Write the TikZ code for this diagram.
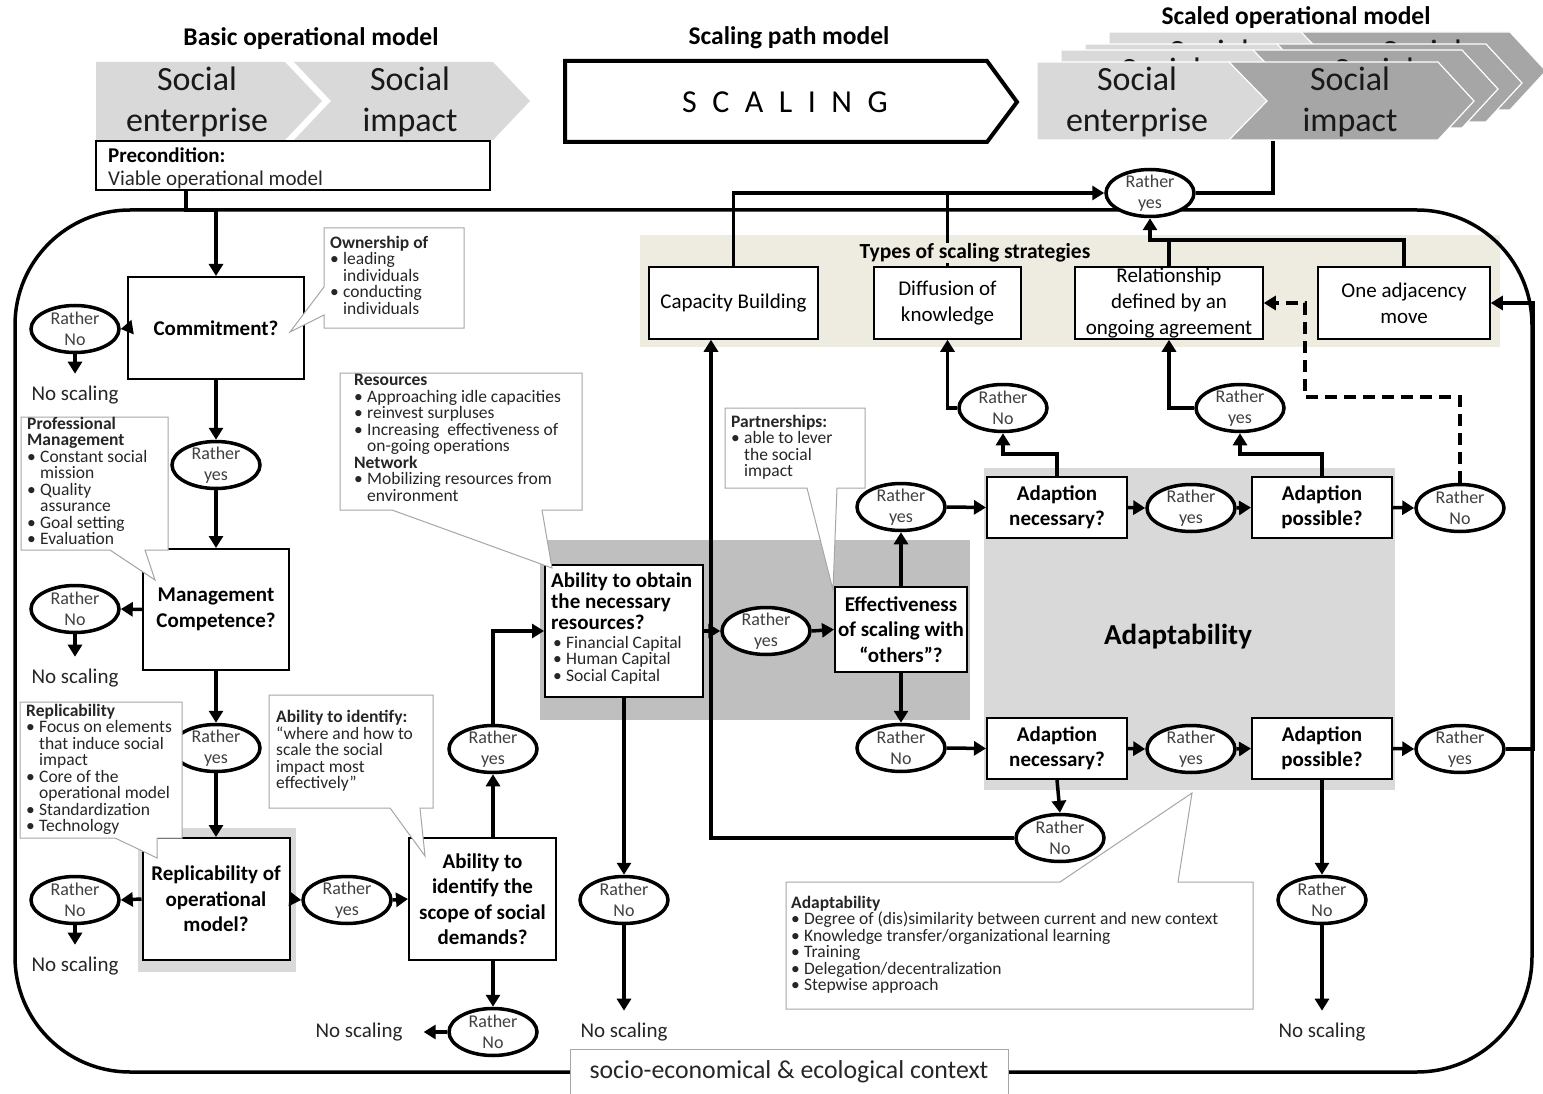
\documentclass[tikz,border=0pt]{standalone}
\usepackage{fontspec}
\setmainfont{Carlito}
\usetikzlibrary{shapes.geometric,arrows.meta}
\definecolor{lg}{HTML}{D9D9D9}
\definecolor{dg}{HTML}{A6A6A6}
\definecolor{mg}{HTML}{BFBFBF}
\definecolor{beige}{HTML}{EEECE1}
\definecolor{txtg}{HTML}{404040}
\definecolor{cog}{HTML}{A6A6A6}
\newcommand{\bl}{\makebox[13pt][l]{\textbullet}}
\newcommand{\ci}{\makebox[13pt]{}}
\begin{document}
\begin{tikzpicture}[x=1pt,y=-1pt,
 box/.style={draw,line width=2pt,fill=white,align=center,inner sep=0pt,font=\bfseries\fontsize{21}{25.5}\selectfont},
 rell/.style={ellipse,draw,line width=3.5pt,fill=white,minimum width=88pt,minimum height=47pt,inner sep=0pt},
 rtxt/.style={align=center,text=txtg,font=\fontsize{18}{21}\selectfont,inner sep=0pt},
 ryes/.style={rell,label={[rtxt]center:Rather\\yes}},
 rno/.style={rell,label={[rtxt]center:Rather\\No}},
 nos/.style={font=\fontsize{21}{25}\selectfont,text=black!85,inner sep=1pt},
 conn/.style={line width=3.5pt},
 arr/.style={conn,-{Triangle[length=12pt,width=14pt]}},
 callout/.style={draw=cog,line width=1pt,fill=white},
 ctxt/.style={align=left,anchor=north west,inner sep=0pt,font=\fontsize{17.5}{16.5}\selectfont,text=black!85},
 sbox/.style={draw,line width=1.5pt,fill=white,align=center,inner sep=0pt,font=\fontsize{21}{26}\selectfont},
 chevtxt/.style={align=center,font=\fontsize{34}{41}\selectfont,text=black!90},
 head/.style={font=\bfseries\fontsize{25.5}{28}\selectfont},
]
\useasboundingbox (0,0) rectangle (1543,1094);
\fill[white] (0,0) rectangle (1543,1094);

% ---------- headers ----------
\node[head] (hbasic) at (311,39) {Basic operational model};
\node[head] (hpath) at (789,38) {Scaling path model};
\node[head] (hscaled) at (1296,18) {Scaled operational model};

% basic chevrons
\fill[lg] (96,62) -- (285,62) -- (322,101) -- (285,140) -- (96,140) -- cycle;
\fill[lg] (294,62) -- (493,62) -- (530,101) -- (493,140) -- (294,140) -- (331,101) -- cycle;
\node[chevtxt] (bse) at (197,102) {Social\\enterprise};
\node[chevtxt] (bsi) at (410,102) {Social\\impact};

% precondition
\node[draw,line width=2pt,fill=white,minimum width=394pt,minimum height=49pt,inner sep=0pt] (precond) at (293,165.5) {};
\node[anchor=west,inner sep=0pt,font=\bfseries\fontsize{21}{24}\selectfont] (pctitle) at (108,155) {Precondition:};
\node[anchor=west,inner sep=0pt,font=\fontsize{21}{24}\selectfont,text=black!85] (pctext) at (108,180) {Viable operational model};

% scaling arrow
\draw[line width=4pt,fill=white] (565,61) -- (987,61) -- (1017,102) -- (987,142) -- (565,142) -- cycle;
\node[font=\fontsize{32}{36}\selectfont] (scal) at (785,102) {S\hspace{15.5pt}C\hspace{15.5pt}A\hspace{15.5pt}L\hspace{15.5pt}I\hspace{15.5pt}N\hspace{15.5pt}G};

% scaled chevrons (back layers: only their top line shows)
\foreach \dx/\dy/\k in {72/-30/4,48/-18/3,24/-12/2}{
 \begin{scope}[shift={(\dx,\dy)}]
 \filldraw[fill=dg,draw=white,line width=1.2pt] (1228,62) -- (1438,62) -- (1474,101) -- (1438,140) -- (1228,140) -- cycle;
 \filldraw[fill=lg,draw=white,line width=1.2pt] (1037,62) -- (1229,62) -- (1267,101) -- (1229,140) -- (1037,140) -- cycle;
 \node[chevtxt] (scse\k) at (1137,81.5) {Social};
 \node[chevtxt] (scsi\k) at (1350,81.5) {Social};
 \end{scope}
}
\filldraw[fill=dg,draw=white,line width=1.2pt] (1228,62) -- (1438,62) -- (1474,101) -- (1438,140) -- (1228,140) -- cycle;
\filldraw[fill=lg,draw=white,line width=1.2pt] (1037,62) -- (1229,62) -- (1267,101) -- (1229,140) -- (1037,140) -- cycle;
\node[chevtxt] (scse1) at (1137,102) {Social\\enterprise};
\node[chevtxt] (scsi1) at (1350,102) {Social\\impact};
\coordinate (sib) at (1273,141);

% ---------- regions ----------
\fill[beige] (640,235) rectangle (1500,347);
\fill[mg] (540,540) rectangle (970,720);
\fill[lg] (984,468) rectangle (1395,790);
\fill[lg] (138,828) rectangle (296,972);
\node[font=\bfseries\fontsize{29}{32}\selectfont] (adaptlbl) at (1178,637) {Adaptability};

% frame
\draw[line width=3.5pt,rounded corners=115pt] (15,210) rectangle (1532,1072);
\node[draw=cog,line width=1pt,fill=white,minimum width=438pt,minimum height=46pt,font=\fontsize{25.8}{28}\selectfont,text=black!85] (ctx) at (789,1072) {socio-economical \& ecological context};

% ---------- nodes: left column ----------
\node[box,minimum width=176pt,minimum height=102pt] (commit) at (216,328) {Commitment?};
\node[rno] (rn1) at (75,329) {};
\node[nos] (ns1) at (75,395) {No scaling};
\node[ryes] (ry1) at (216,465) {};
\node[box,minimum width=146pt,minimum height=121pt] (mgmt) at (216,609.5) {Management\\Competence?};
\node[rno] (rn2) at (75,609) {};
\node[nos] (ns2) at (75,678) {No scaling};
\node[ryes] (ry2) at (216,748) {};
\node[box,minimum width=147pt,minimum height=122pt] (repl) at (216,899) {Replicability of\\operational\\model?};
\node[rno] (rn3) at (75,900) {};
\node[nos] (ns3) at (75,966) {No scaling};
\node[ryes] (ry3) at (347,900) {};
\node[box,minimum width=147pt,minimum height=122pt] (ident) at (482.5,899) {Ability to\\identify the\\scope of social\\demands?};
\node[rno] (rn4) at (493,1032) {};
\node[nos] (ns4) at (359,1032) {No scaling};
\node[ryes] (ry4) at (493,749) {};

% middle
\node[draw,line width=2pt,fill=white,minimum width=158pt,minimum height=132pt,inner sep=0pt] (obtain) at (624,631) {};
\node[anchor=north west,align=left,inner sep=0pt,font=\bfseries\fontsize{21}{21}\selectfont] (obt1) at (551,573) {Ability to obtain\\the necessary\\resources?};
\node[ctxt] (obt2) at (553,636) {\bl Financial Capital\\\bl Human Capital\\\bl Social Capital};
\node[ryes] (ry5) at (766,631) {};
\node[box,minimum width=132pt,minimum height=85pt] (effect) at (901,629.5) {Effectiveness\\of scaling with\\“others”?};
\node[ryes] (ry6) at (901,507) {};
\node[rno] (rn5) at (901,748) {};
\node[rno] (rn6) at (624,900) {};
\node[nos] (ns5) at (624,1032) {No scaling};

% adaptability
\node[box,minimum width=140pt,minimum height=61pt] (adn1) at (1057,507.5) {Adaption\\necessary?};
\node[ryes] (ryA) at (1191,508) {};
\node[box,minimum width=140pt,minimum height=61pt] (adp1) at (1322,507.5) {Adaption\\possible?};
\node[rno] (rnA) at (1460,508) {};
\node[box,minimum width=140pt,minimum height=61pt] (adn2) at (1057,748.5) {Adaption\\necessary?};
\node[ryes] (ryB) at (1191,749) {};
\node[box,minimum width=140pt,minimum height=61pt] (adp2) at (1322,748.5) {Adaption\\possible?};
\node[ryes] (ryC) at (1460,749) {};
\node[rno] (rnB) at (1003,408) {};
\node[ryes] (ryD) at (1240,408) {};
\node[rno] (rnC) at (1060,838) {};
\node[rno] (rn7) at (1322,900) {};
\node[nos] (ns6) at (1322,1032) {No scaling};

% strategies
\node[sbox,minimum width=169pt,minimum height=72pt] (cap) at (733.5,303) {Capacity Building};
\node[sbox,minimum width=147pt,minimum height=72pt] (diff) at (947.5,303) {Diffusion of\\knowledge};
\node[sbox,minimum width=188pt,minimum height=72pt] (rel) at (1169,303) {Relationship\\defined by an\\ongoing agreement};
\node[sbox,minimum width=172pt,minimum height=72pt] (adj) at (1404,303) {One adjacency\\move};
\node[ryes] (ryT) at (1150,193) {};

% ---------- connectors ----------
\coordinate (pc) at (186,190);
\coordinate (pc2) at (216,210);
\coordinate (dsh) at (1305,397);
\draw[conn] (pc) |- (pc2);
\draw[arr] (pc2) -- (commit.north);
\draw[arr] (commit.west) -- (rn1.east);
\draw[arr,shorten >=11pt] (rn1.south) -- (ns1.north);
\draw[arr] (commit.south) -- (ry1.north);
\draw[arr] (ry1.south) -- (mgmt.north);
\draw[arr] (mgmt.west) -- (rn2.east);
\draw[arr,shorten >=11pt] (rn2.south) -- (ns2.north);
\draw[arr] (mgmt.south) -- (ry2.north);
\draw[arr] (ry2.south) -- (repl.north);
\draw[arr] (repl.west) -- (rn3.east);
\draw[arr,shorten >=11pt] (rn3.south) -- (ns3.north);
\draw[arr] (repl.east) -- (ry3.west);
\draw[arr] (ry3.east) -- (ident.west);
\draw[arr] (ident.south -| rn4.north) -- (rn4.north);
\draw[arr,shorten >=20pt] (rn4.west) -- (ns4.east);
\draw[arr] (ident.north -| ry4.south) -- (ry4.south);
\draw[arr] (ry4.north) |- (obtain.west);
\draw[arr] (obtain.east) -- (ry5.west);
\draw[arr] (ry5.east) -- (effect.west);
\draw[arr] (effect.north) -- (ry6.south);
\draw[arr] (effect.south) -- (rn5.north);
\draw[arr] (ry6.east) -- (adn1.west);
\draw[arr] (adn1.east) -- (ryA.west);
\draw[arr] (ryA.east) -- (adp1.west);
\draw[arr] (adp1.east) -- (rnA.west);
\draw[arr] (rn5.east) -- (adn2.west);
\draw[arr] (adn2.east) -- (ryB.west);
\draw[arr] (ryB.east) -- (adp2.west);
\draw[arr] (adp2.east) -- (ryC.west);
\draw[arr] (obtain.south) -- (rn6.north);
\draw[arr,shorten >=11pt] (rn6.south) -- (ns5.north);
\draw[arr] (adn1.north) -- ++(0,-22) -| (rnB.south);
\draw[arr] (rnB.west) -| (diff.south);
\draw[arr] (adp1.north) -- ++(0,-22) -| (ryD.south);
\draw[arr] (ryD.west) -| (rel.south);
\draw[arr,dash pattern=on 12pt off 7pt] (rnA.north) |- (dsh) |- (rel.east);
\draw[arr] (ryC.east) -- ++(27,0) |- (adj.east);
\draw[arr] (adn2.south) -- (rnC.north);
\draw[arr] (rnC.west) -| ([xshift=-22.5pt]cap.south);
\draw[arr] (adp2.south) -- (rn7.north);
\draw[arr,shorten >=11pt] (rn7.south) -- (ns6.north);
\draw[arr] (cap.north) |- (ryT.west);
\draw[conn] (diff.north) -- (diff.north |- ryT.west);
\draw[conn] (rel.north) -- ++(0,-26);
\draw[arr] (adj.north) -- ++(0,-26) -| (ryT.south);
\draw[conn] (ryT.east) -| (sib);
\node[fill=beige,inner sep=1pt,font=\bfseries\fontsize{21.5}{24}\selectfont] (types) at (975,253) {Types of scaling strategies};

% ---------- callouts ----------
\draw[callout] (324,228) -- (464,228) -- (464,328) -- (324,328) -- (324,315) -- (290,332) -- (324,287) -- cycle;
\node[ctxt] (cown) at (330,236) {\textbf{Ownership of}\\\bl leading\\\ci individuals\\\bl conducting\\\ci individuals};

\draw[callout] (21,417) -- (168,417) -- (168,550) -- (145,550) -- (155,580) -- (110,550) -- (21,550) -- cycle;
\node[ctxt] (cpm) at (27,417) {\textbf{Professional}\\\textbf{Management}\\\bl Constant social\\\ci mission\\\bl Quality\\\ci assurance\\\bl Goal setting\\\bl Evaluation};

\draw[callout] (20,702) -- (182,702) -- (182,838) -- (157,838) -- (157,858) -- (115,838) -- (20,838) -- cycle;
\node[ctxt] (crep) at (26,704) {\textbf{Replicability}\\\bl Focus on elements\\\ci that induce social\\\ci impact\\\bl Core of the\\\ci operational model\\\bl Standardization\\\bl Technology};

\draw[callout] (269,695) -- (433,695) -- (433,808) -- (420,808) -- (425,856) -- (390,808) -- (269,808) -- cycle;
\node[ctxt] (cid) at (276,710) {\textbf{Ability to identify:}\\“where and how to\\scale the social\\impact most\\effectively”};

\draw[callout] (340,373) -- (582,373) -- (582,510) -- (542,510) -- (552,568) -- (392,510) -- (340,510) -- cycle;
\node[ctxt] (cres) at (354,374) {\textbf{Resources}\\\bl Approaching idle capacities\\\bl reinvest surpluses\\\bl Increasing\ \ effectiveness of\\\ci on-going operations\\\textbf{Network}\\\bl Mobilizing resources from\\\ci environment};

\draw[callout] (725,408) -- (865,408) -- (865,488) -- (837,488) -- (833,590) -- (807,488) -- (725,488) -- cycle;
\node[ctxt] (cpart) at (731,415) {\textbf{Partnerships:}\\\bl able to lever\\\ci the social\\\ci impact};

\draw[callout] (786,882) -- (1060,882) -- (1192,793) -- (1178,882) -- (1253,882) -- (1253,1009) -- (786,1009) -- cycle;
\node[ctxt] (cadapt) at (791,896) {\textbf{Adaptability}\\\bl Degree of (dis)similarity between current and new context\\\bl Knowledge transfer/organizational learning\\\bl Training\\\bl Delegation/decentralization\\\bl Stepwise approach};
\end{tikzpicture}
\end{document}
